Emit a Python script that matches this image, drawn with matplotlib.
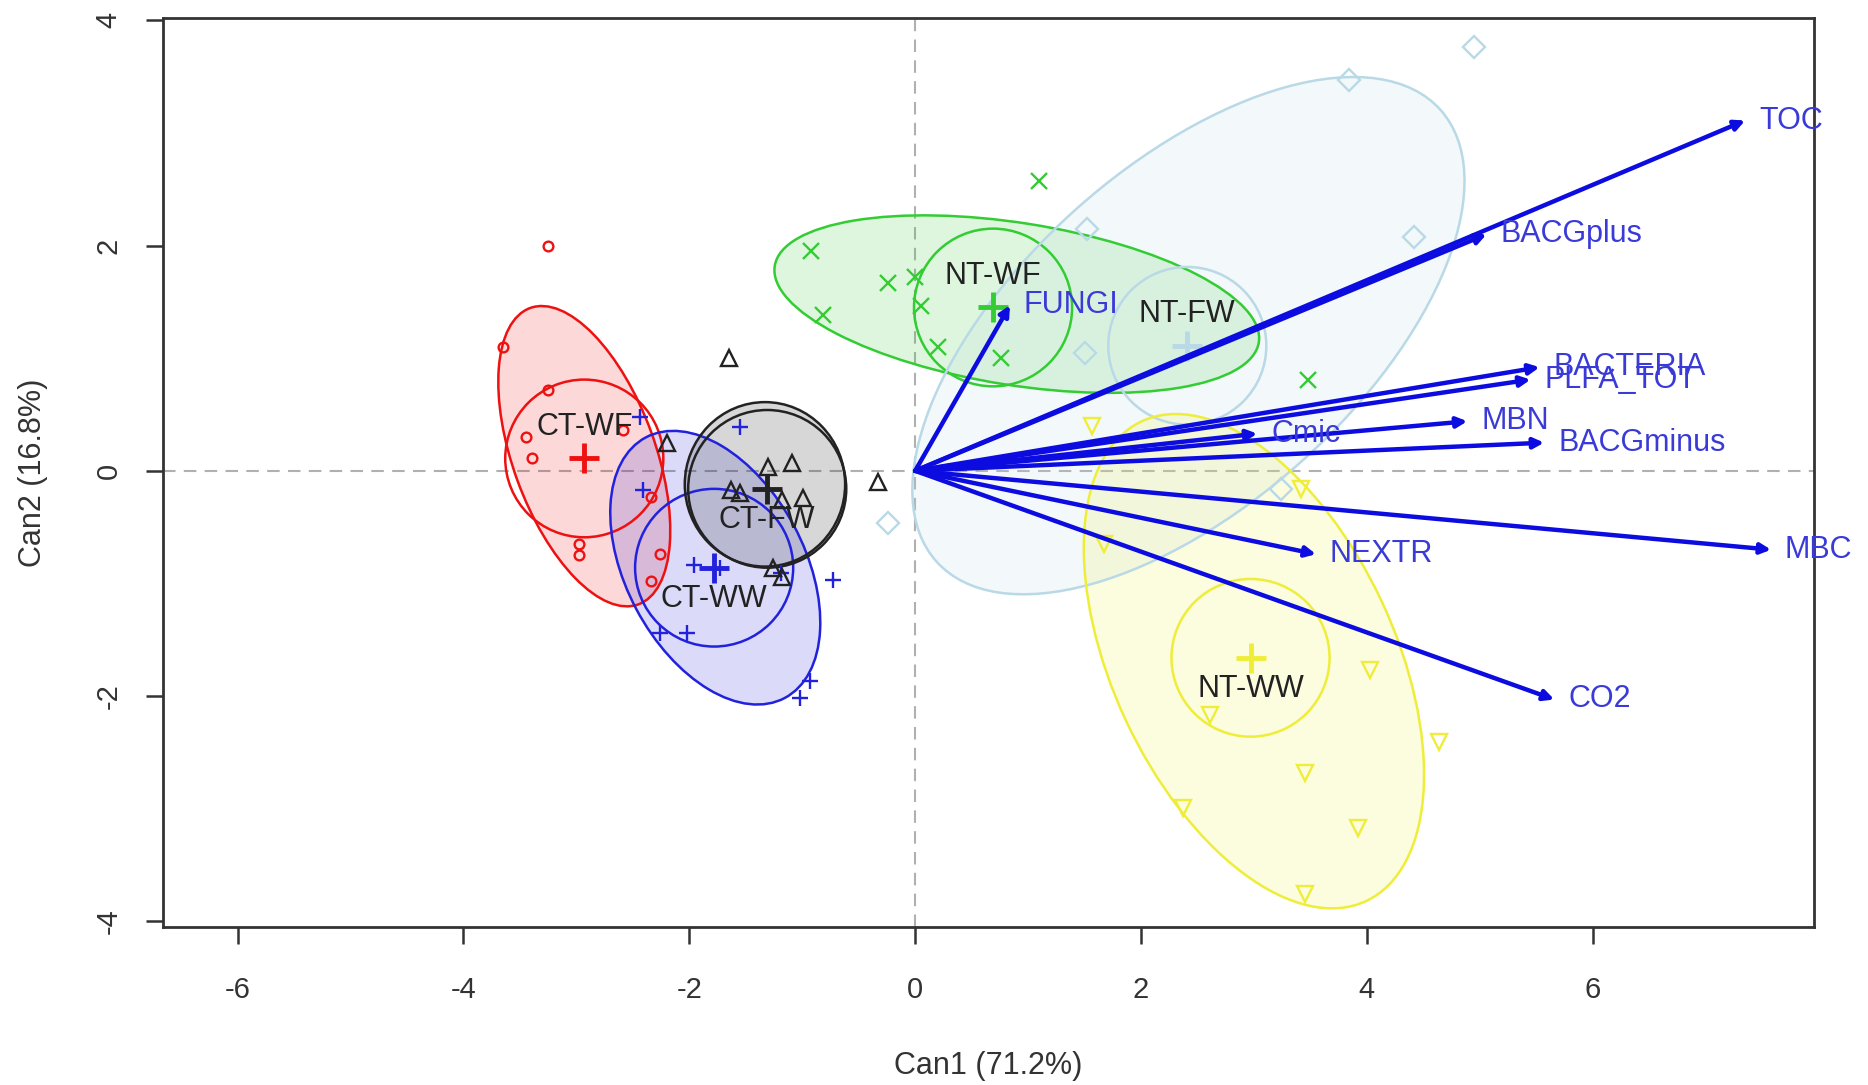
import matplotlib
matplotlib.use("Agg")
import matplotlib.pyplot as plt
from matplotlib.patches import Ellipse

plt.rcParams["font.family"] = ["Liberation Sans", "DejaVu Sans"]
plt.rcParams["axes.unicode_minus"] = False

# groups
GROUPS = ["CT-WF", "CT-WW", "CT-FW", "NT-WF", "NT-FW", "NT-WW"]
COLORS = ["#ee1111", "#2222dd", "#222222", "#33cc33", "#b9d9e6", "#eeee3a"]
MARKERS = ["o", "+", "^", "x", "D", "v"]

# group means (canonical scores)
MEAN_X = [-2.93, -1.78, -1.31, 0.69, 2.41, 2.97]
MEAN_Y = [0.11, -0.86, -0.16, 1.45, 1.11, -1.66]
MEAN_R = 0.70  # radius of the mean circles

# data ellipses: centre, semi-axes, angle (deg)
ELL_CX = [-2.93, -1.77, -1.33, 0.90, 2.42, 3.00]
ELL_CY = [0.13, -0.86, -0.12, 1.48, 1.20, -1.69]
ELL_A = [1.40, 1.31, 0.73, 2.17, 3.00, 2.35]
ELL_B = [0.63, 0.79, 0.71, 0.72, 1.50, 1.25]
ELL_ANG = [110, 118, 90, -9, 42, 115]

# observations per group
PTS_X = [
    [-3.25, -3.65, -3.25, -3.45, -3.39, -2.98, -2.98, -2.34, -2.26, -2.34, -2.59],
    [-2.44, -1.55, -2.41, -1.96, -1.73, -1.19, -0.73, -2.26, -2.02, -0.93, -1.02],
    [-1.65, -2.20, -1.30, -1.09, -1.63, -1.55, -1.18, -0.99, -1.26, -1.18, -0.33],
    [-0.92, -0.24, 0.00, 0.05, -0.82, 0.20, 0.76, 1.10, 3.48],
    [3.84, 4.95, 4.42, 1.52, 1.50, 3.24, -0.24],
    [1.57, 3.42, 1.67, 2.61, 4.03, 4.64, 3.45, 2.37, 3.92, 3.45],
]
PTS_Y = [
    [2.00, 1.10, 0.72, 0.30, 0.11, -0.65, -0.75, -0.23, -0.74, -0.98, 0.36],
    [0.48, 0.39, -0.17, -0.84, -0.86, -0.91, -0.97, -1.44, -1.44, -1.87, -2.02],
    [1.00, 0.25, 0.03, 0.07, -0.17, -0.20, -0.26, -0.24, -0.86, -0.94, -0.10],
    [1.95, 1.67, 1.72, 1.46, 1.38, 1.10, 1.00, 2.57, 0.81],
    [3.47, 3.76, 2.08, 2.15, 1.05, -0.16, -0.46],
    [0.40, -0.16, -0.65, -2.17, -1.77, -2.41, -2.68, -2.99, -3.17, -3.76],
]
LABEL_SIDE = [1, -1, -1, 1, 1, -1]  # group label above (+1) / below (-1) mean

# structure vectors
VARS = ["TOC", "BACGplus", "BACTERIA", "PLFA_TOT", "MBN", "BACGminus",
        "Cmic", "MBC", "NEXTR", "CO2", "FUNGI"]
VEC_X = [7.35, 5.06, 5.53, 5.45, 4.89, 5.57, 3.03, 7.58, 3.55, 5.66, 0.84]
VEC_Y = [3.11, 2.10, 0.92, 0.81, 0.44, 0.25, 0.33, -0.70, -0.74, -2.03, 1.47]

fig = plt.figure(figsize=(18.68, 10.85), dpi=100)
ax = fig.add_axes([0.0873, 0.1456, 0.8838, 0.8378])

ax.axhline(0, color="#b0b0b0", lw=1.5, ls=(0, (6, 4)), zorder=1)
ax.axvline(0, color="#b0b0b0", lw=1.5, ls=(0, (6, 4)), zorder=1)

for i, g in enumerate(GROUPS):
    c = COLORS[i]
    alpha = 0.16 if i != 2 else 0.18
    ax.add_patch(Ellipse((ELL_CX[i], ELL_CY[i]), 2 * ELL_A[i], 2 * ELL_B[i],
                         angle=ELL_ANG[i], facecolor=c, alpha=alpha,
                         edgecolor="none", zorder=2))
    ax.add_patch(Ellipse((ELL_CX[i], ELL_CY[i]), 2 * ELL_A[i], 2 * ELL_B[i],
                         angle=ELL_ANG[i], facecolor="none", edgecolor=c,
                         lw=1.8, zorder=3))
    ax.add_patch(Ellipse((MEAN_X[i], MEAN_Y[i]), 2 * MEAN_R, 2 * MEAN_R,
                         facecolor="none", edgecolor=c, lw=1.8, zorder=3))
    if MARKERS[i] in ("+", "x"):
        ax.plot(PTS_X[i], PTS_Y[i], ls="none", marker=MARKERS[i], color=c,
                ms=12, mew=1.7, zorder=4)
    else:
        ms = 7 if MARKERS[i] == "o" else 11
        ax.plot(PTS_X[i], PTS_Y[i], ls="none", marker=MARKERS[i], mfc="none",
                mec=c, ms=ms, mew=1.7, zorder=4)
    ax.plot(MEAN_X[i], MEAN_Y[i], marker="+", color=c, ms=22, mew=3.5, zorder=5)

for name, x, y in zip(VARS, VEC_X, VEC_Y):
    ax.annotate("", xy=(x, y), xytext=(0, 0),
                arrowprops=dict(arrowstyle="-|>", color="#0c0ce0", lw=3.2,
                                mutation_scale=15, shrinkA=0, shrinkB=0),
                zorder=6)
    ax.annotate(name, xy=(x, y), xytext=(10, 0), textcoords="offset points",
                ha="left", va="center", fontsize=22, color="#3a3ad8", zorder=7)

for i, g in enumerate(GROUPS):
    ax.text(MEAN_X[i], MEAN_Y[i] + LABEL_SIDE[i] * 0.28, g, ha="center",
            va="center", fontsize=22, color="#222222", zorder=7)

ax.set_xlim(-6.66, 7.96)
ax.set_ylim(-4.05, 4.02)
ax.set_xticks([-6, -4, -2, 0, 2, 4, 6])
ax.set_yticks([-4, -2, 0, 2, 4])
for s in ax.spines.values():
    s.set_color("#333333")
    s.set_linewidth(2)
ax.tick_params(length=12, width=1.8, color="#333333", labelsize=21,
               labelcolor="#333333")
ax.tick_params(axis="x", pad=23)
ax.tick_params(axis="y", pad=17, labelrotation=90)
for lab in ax.get_yticklabels():
    lab.set_va("center")
ax.set_xlabel("Can1 (71.2%)", fontsize=22, color="#333333", labelpad=34)
ax.set_ylabel("Can2 (16.8%)", fontsize=22, color="#333333", labelpad=34)

fig.savefig("out.png", dpi=100)
